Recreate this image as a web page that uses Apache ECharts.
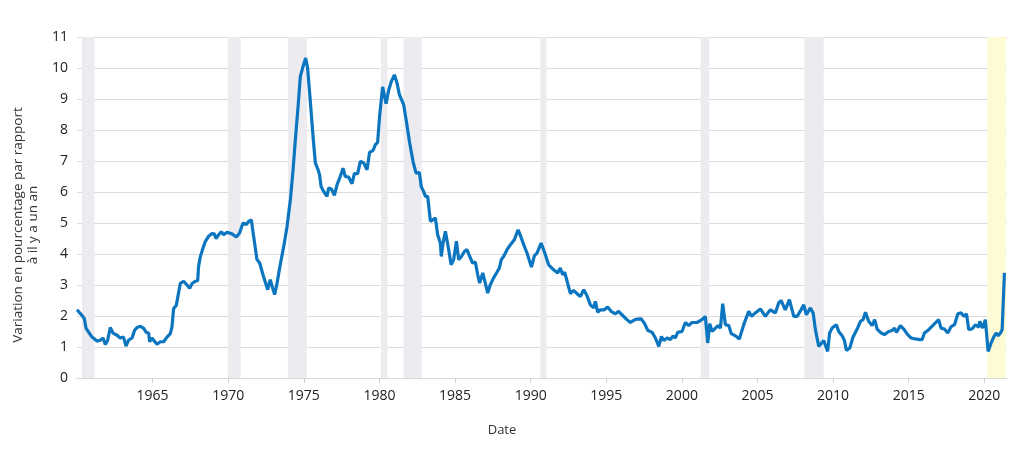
<!DOCTYPE html>
<html>
<head>
<meta charset="utf-8">
<script src="https://cdn.jsdelivr.net/npm/echarts@6/dist/echarts.min.js"></script>
<style>
  html, body { margin: 0; padding: 0; background: #fff; }
  #chart { width: 1024px; height: 459px; }
</style>
</head>
<body>
<div id="chart"></div>
<script>
// decimal years of each reading
var dates = [
  1960.0, 1960.33, 1960.48, 1960.6, 1960.77, 1960.99, 1961.32, 1961.54, 1961.72, 1961.87,
  1962.03, 1962.2, 1962.38, 1962.65, 1962.86, 1963.08, 1963.24, 1963.41, 1963.64, 1963.81,
  1963.97, 1964.19, 1964.41, 1964.58, 1964.74, 1964.8, 1964.96, 1965.07, 1965.29, 1965.51,
  1965.73, 1965.95, 1966.17, 1966.28, 1966.39, 1966.57, 1966.65, 1966.83, 1967.05, 1967.28,
  1967.45, 1967.61, 1967.82, 1967.98, 1968.04, 1968.15, 1968.33, 1968.49, 1968.7, 1968.93,
  1969.08, 1969.19, 1969.37, 1969.54, 1969.7, 1969.92, 1970.25, 1970.54, 1970.75, 1970.98,
  1971.2, 1971.35, 1971.53, 1971.68, 1971.9, 1972.08, 1972.3, 1972.61, 1972.78, 1972.94,
  1973.07, 1973.23, 1973.4, 1973.71, 1973.89, 1974.11, 1974.29, 1974.44, 1974.62, 1974.77,
  1974.95, 1975.12, 1975.25, 1975.43, 1975.61, 1975.76, 1975.94, 1976.04, 1976.14, 1976.31,
  1976.53, 1976.64, 1976.82, 1977.02, 1977.2, 1977.41, 1977.59, 1977.74, 1977.96, 1978.19,
  1978.34, 1978.56, 1978.74, 1978.96, 1979.18, 1979.35, 1979.58, 1979.73, 1979.88, 1980.01,
  1980.21, 1980.44, 1980.61, 1980.79, 1980.99, 1981.16, 1981.32, 1981.45, 1981.6, 1981.78,
  1982.0, 1982.22, 1982.42, 1982.64, 1982.77, 1982.92, 1983.04, 1983.19, 1983.37, 1983.55,
  1983.7, 1983.85, 1984.03, 1984.09, 1984.21, 1984.36, 1984.54, 1984.74, 1984.91, 1985.09,
  1985.24, 1985.42, 1985.62, 1985.79, 1985.97, 1986.16, 1986.34, 1986.5, 1986.63, 1986.83,
  1987.0, 1987.16, 1987.33, 1987.55, 1987.78, 1987.93, 1988.06, 1988.21, 1988.44, 1988.66,
  1988.92, 1989.17, 1989.32, 1989.54, 1989.76, 1990.05, 1990.25, 1990.42, 1990.69, 1990.9,
  1991.19, 1991.52, 1991.79, 1991.96, 1992.12, 1992.25, 1992.41, 1992.63, 1992.84, 1993.07,
  1993.29, 1993.51, 1993.73, 1993.95, 1994.17, 1994.28, 1994.43, 1994.61, 1994.87, 1995.09,
  1995.32, 1995.6, 1995.82, 1996.04, 1996.33, 1996.59, 1996.81, 1997.04, 1997.3, 1997.52,
  1997.74, 1998.03, 1998.25, 1998.47, 1998.65, 1998.8, 1999.02, 1999.24, 1999.42, 1999.57,
  1999.72, 2000.01, 2000.23, 2000.45, 2000.67, 2001.0, 2001.33, 2001.55, 2001.71, 2001.84,
  2002.0, 2002.22, 2002.39, 2002.55, 2002.7, 2002.88, 2003.1, 2003.27, 2003.54, 2003.8,
  2004.09, 2004.42, 2004.6, 2004.86, 2005.19, 2005.52, 2005.85, 2006.18, 2006.4, 2006.56,
  2006.84, 2007.11, 2007.4, 2007.62, 2007.88, 2008.06, 2008.23, 2008.5, 2008.68, 2008.83,
  2009.05, 2009.38, 2009.64, 2009.77, 2009.93, 2010.22, 2010.37, 2010.6, 2010.75, 2010.88,
  2011.1, 2011.32, 2011.59, 2011.81, 2011.98, 2012.14, 2012.35, 2012.58, 2012.75, 2012.91,
  2013.18, 2013.39, 2013.68, 2013.9, 2014.06, 2014.19, 2014.45, 2014.67, 2014.93, 2015.16,
  2015.44, 2015.73, 2015.89, 2016.04, 2016.32, 2016.65, 2016.98, 2017.14, 2017.36, 2017.58,
  2017.81, 2018.03, 2018.25, 2018.47, 2018.64, 2018.82, 2018.97, 2019.2, 2019.41, 2019.63,
  2019.7, 2019.89, 2020.07, 2020.14, 2020.25, 2020.45, 2020.62, 2020.78, 2020.92, 2021.07,
  2021.18, 2021.33
]

// variation en % par rapport à il y a un an
var values = [
  2.2, 2.02, 1.92, 1.6, 1.48, 1.32, 1.19, 1.22, 1.29, 1.08,
  1.22, 1.63, 1.45, 1.38, 1.29, 1.32, 1.03, 1.22, 1.29, 1.54,
  1.63, 1.67, 1.6, 1.47, 1.45, 1.17, 1.29, 1.22, 1.09, 1.17,
  1.17, 1.32, 1.43, 1.65, 2.24, 2.35, 2.57, 3.05, 3.12, 3.0,
  2.89, 3.05, 3.12, 3.14, 3.6, 3.9, 4.19, 4.41, 4.57, 4.66,
  4.65, 4.5, 4.62, 4.72, 4.62, 4.7, 4.65, 4.55, 4.68, 5.0,
  4.95, 5.05, 5.1, 4.57, 3.82, 3.71, 3.33, 2.85, 3.17, 2.9,
  2.69, 3.06, 3.55, 4.35, 4.89, 5.75, 6.72, 7.69, 8.76, 9.73,
  10.05, 10.32, 10.0, 8.92, 7.79, 6.94, 6.72, 6.56, 6.18, 6.02,
  5.86, 6.13, 6.1, 5.89, 6.24, 6.5, 6.77, 6.5, 6.48, 6.27,
  6.59, 6.59, 6.99, 6.94, 6.72, 7.28, 7.34, 7.53, 7.6, 8.44,
  9.39, 8.85, 9.28, 9.57, 9.78, 9.52, 9.14, 9.19, 8.82, 8.28,
  7.58, 6.99, 6.61, 6.63, 6.16, 6.02, 5.86, 5.86, 5.05, 5.11,
  5.16, 4.62, 4.35, 3.92, 4.35, 4.73, 4.25, 3.65, 3.82, 4.41,
  3.82, 3.92, 4.08, 4.14, 3.92, 3.71, 3.74, 3.33, 3.06, 3.39,
  3.06, 2.74, 3.01, 3.23, 3.42, 3.55, 3.82, 3.92, 4.14, 4.3,
  4.46, 4.78, 4.6, 4.3, 4.03, 3.58, 3.95, 4.03, 4.35, 4.08,
  3.65, 3.49, 3.39, 3.55, 3.33, 3.41, 3.12, 2.72, 2.83, 2.72,
  2.63, 2.85, 2.65, 2.36, 2.26, 2.47, 2.12, 2.2, 2.2, 2.29,
  2.15, 2.07, 2.15, 2.04, 1.9, 1.79, 1.86, 1.9, 1.91, 1.77,
  1.54, 1.47, 1.29, 1.02, 1.34, 1.21, 1.29, 1.24, 1.36, 1.29,
  1.47, 1.5, 1.79, 1.69, 1.79, 1.79, 1.88, 1.99, 1.13, 1.75,
  1.5, 1.61, 1.69, 1.61, 2.4, 1.72, 1.69, 1.43, 1.36, 1.26,
  1.72, 2.15, 1.99, 2.1, 2.23, 1.99, 2.2, 2.1, 2.42, 2.5,
  2.2, 2.53, 1.99, 1.99, 2.2, 2.36, 2.04, 2.26, 2.1, 1.56,
  1.02, 1.21, 0.86, 1.45, 1.61, 1.72, 1.5, 1.36, 1.21, 0.89,
  0.97, 1.32, 1.58, 1.83, 1.88, 2.12, 1.83, 1.69, 1.88, 1.58,
  1.45, 1.4, 1.5, 1.53, 1.61, 1.47, 1.69, 1.58, 1.4, 1.29,
  1.26, 1.24, 1.24, 1.45, 1.56, 1.72, 1.88, 1.61, 1.58, 1.45,
  1.66, 1.72, 2.07, 2.1, 1.99, 2.07, 1.56, 1.59, 1.72, 1.64,
  1.83, 1.61, 1.88, 1.94, 0.86, 1.13, 1.32, 1.45, 1.36, 1.45,
  1.56, 3.39
]

// récessions (bandes grises)
var recessionStart = [1960.33, 1969.97, 1973.95, 1980.1, 1981.6, 1990.65, 2001.24, 2008.1]
var recessionEnd = [1961.16, 1970.82, 1975.2, 1980.52, 1982.8, 1991.05, 2001.81, 2009.38]
// période récente (bande jaune)
var highlightStart = 2020.2
var highlightEnd = 2021.44

var yTitle = 'Variation en pourcentage par rapport\nà il y a un an'

var fontFamily = '"Open Sans", "Noto Sans", sans-serif'

var chart = echarts.init(document.getElementById('chart'))

var lineData = dates.map(function (d, i) {
  return [d, values[i]]
})

var bands = recessionStart.map(function (s, i) {
  return [{ xAxis: s, itemStyle: { color: '#ececf0' } }, { xAxis: recessionEnd[i] }]
})
bands.push([{ xAxis: highlightStart, itemStyle: { color: '#fdfad6' } }, { xAxis: highlightEnd }])

chart.setOption({
  animation: false,
  grid: {
    left: 77,
    right: 17,
    top: 37,
    bottom: 81
  },
  graphic: [{
    type: 'text',
    x: 26,
    y: 225,
    rotation: Math.PI / 2,
    silent: true,
    style: {
      text: yTitle,
      align: 'center',
      verticalAlign: 'middle',
      fontFamily: fontFamily,
      fontSize: 13.5,
      lineHeight: 15,
      fill: '#333'
    }
  }],
  xAxis: {
    type: 'value',
    min: 1960,
    max: 2021.5,
    interval: 5,
    name: 'Date',
    nameLocation: 'middle',
    nameGap: 46,
    nameTextStyle: {
      fontFamily: fontFamily,
      fontSize: 13,
      color: '#333',
      padding: [0, 80, 0, 0]
    },
    axisLine: { lineStyle: { color: '#d9d9d9' } },
    axisTick: { length: 5, lineStyle: { color: '#cfcfcf' } },
    splitLine: { show: false },
    axisLabel: {
      showMinLabel: false,
      showMaxLabel: false,
      margin: 11,
      fontFamily: fontFamily,
      fontSize: 14,
      color: '#222',
      formatter: function (v) {
        return String(v)
      }
    }
  },
  yAxis: {
    type: 'value',
    min: 0,
    max: 11,
    interval: 1,
    axisLine: { show: false },
    axisTick: { show: false },
    splitLine: { lineStyle: { color: '#dcdcdc' } },
    axisLabel: {
      margin: 9,
      fontFamily: fontFamily,
      fontSize: 14,
      color: '#222'
    }
  },
  series: [{
    type: 'line',
    data: lineData,
    showSymbol: false,
    lineStyle: { color: '#0b76bf', width: 3.2 },
    itemStyle: { color: '#0b76bf' },
    markArea: {
      silent: true,
      data: bands
    }
  }]
})
</script>
</body>
</html>
